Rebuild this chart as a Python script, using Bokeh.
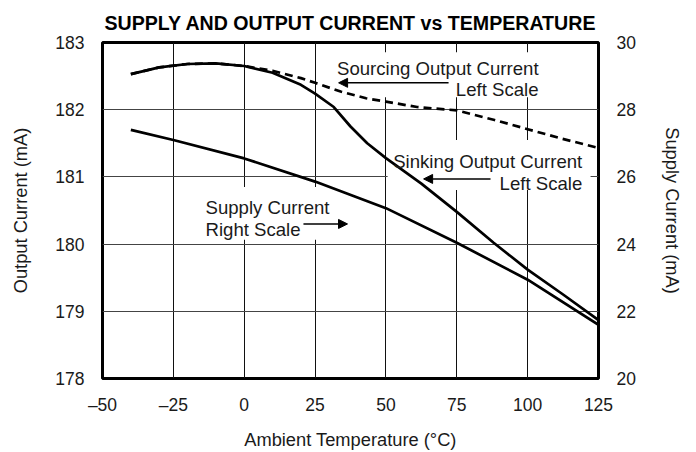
from bokeh.plotting import figure
from bokeh.models import (Range1d, LinearAxis, FixedTicker, Label, Arrow,
                          NormalHead, BoxAnnotation)
from bokeh.embed import file_html
from bokeh.resources import INLINE

# ---------------- data ----------------
temp_x_ticks = [-50, -25, 0, 25, 50, 75, 100, 125]
left_ticks = [178, 179, 180, 181, 182, 183]
right_ticks = [20, 22, 24, 26, 28, 30]

# Sourcing output current (left scale, mA) - dashed
src_temp = [-40, -30, -20, -10, 0, 10, 20, 25, 34, 43, 50, 61, 75, 88, 100, 112, 125]
src_curr = [182.53, 182.63, 182.68, 182.69, 182.65, 182.58, 182.47, 182.40,
            182.27, 182.17, 182.12, 182.04, 181.99, 181.85, 181.71, 181.57, 181.43]

# Sinking output current (left scale, mA) - solid
snk_temp = [-40, -30, -20, -10, 0, 10, 20, 25, 31.6, 37.5, 43.4, 50, 62.5, 75, 88, 100, 112.5, 125]
snk_curr = [182.53, 182.63, 182.68, 182.69, 182.65, 182.55, 182.37, 182.24, 182.04,
            181.75, 181.50, 181.28, 180.90, 180.48, 180.02, 179.62, 179.25, 178.87]

# Supply current (right scale, mA) - solid
sup_temp = [-40, -25, 0, 25, 50, 75, 100, 125]
sup_curr = [27.40, 27.10, 26.55, 25.86, 25.07, 24.04, 22.94, 21.60]

FONT = "Liberation Sans"
TXT = "#1a1a1a"

p = figure(width=694, height=452, output_backend="svg", toolbar_location=None,
           x_range=Range1d(-50, 125), y_range=Range1d(178, 183),
           min_border_left=102, min_border_right=96, min_border_top=42,
           min_border_bottom=74)
p.extra_y_ranges = {"supply": Range1d(20, 30)}

p.title.text = "SUPPLY AND OUTPUT CURRENT vs TEMPERATURE"
p.title.text_font = FONT
p.title.text_font_size = "19.6px"
p.title.text_font_style = "bold"
p.title.text_color = "black"
p.title.align = "center"
p.title.standoff = 18

p.outline_line_color = "black"
p.outline_line_width = 3
p.outline_line_alpha = 1.0

# x axis
xa = p.xaxis[0]
xa.ticker = FixedTicker(ticks=temp_x_ticks)
xa.major_label_overrides = {-50: "\u201350", -25: "\u201325"}
xa.axis_label = "Ambient Temperature (\u00b0C)"

ya = p.yaxis[0]
ya.ticker = FixedTicker(ticks=left_ticks)
ya.axis_label = "Output Current (mA)"

ra = LinearAxis(y_range_name="supply", ticker=FixedTicker(ticks=right_ticks),
                axis_label="Supply Current (mA)")
p.add_layout(ra, "right")

for ax in (xa, ya, ra):
    ax.axis_line_color = None
    ax.major_tick_line_color = None
    ax.minor_tick_line_color = None
    ax.major_tick_out = 0
    ax.major_tick_in = 0
    ax.major_label_text_font = FONT
    ax.major_label_text_font_size = "17.5px"
    ax.major_label_text_color = TXT
    ax.axis_label_text_font = FONT
    ax.axis_label_text_font_size = "18.3px"
    ax.axis_label_text_font_style = "normal"
    ax.axis_label_text_color = TXT

xa.major_label_standoff = 16
xa.axis_label_standoff = 11
ya.major_label_standoff = 18
ya.axis_label_standoff = 21
ra.major_label_standoff = 18
ra.axis_label_standoff = 23

p.xgrid.ticker = FixedTicker(ticks=temp_x_ticks)
p.xgrid.grid_line_color = "#111111"
p.xgrid.grid_line_width = 1
p.ygrid.ticker = FixedTicker(ticks=left_ticks)
p.ygrid.grid_line_color = "#444444"
p.ygrid.grid_line_width = 1

# white boxes behind the annotation texts (hide the grid there)
for (l, r, b, t) in [(31.5, 104.9, 182.187, 182.856),
                     (50.6, 122.2, 180.805, 181.548),
                     (-15.4, 30.45, 180.063, 180.85)]:
    p.add_layout(BoxAnnotation(left=l, right=r, bottom=b, top=t,
                               fill_color="white", fill_alpha=1.0,
                               line_color=None, level="underlay"))

# curves
p.line(src_temp, src_curr, line_color="black", line_width=2.7, line_dash="8 5")
p.line(snk_temp, snk_curr, line_color="black", line_width=2.7)
p.line(sup_temp, sup_curr, line_color="black", line_width=2.7, y_range_name="supply")

# annotation texts
def lab(x, y, text, align):
    p.add_layout(Label(x=x, y=y, text=text, text_align=align,
                       text_baseline="alphabetic", text_font=FONT,
                       text_font_size="18.6px", text_color=TXT))

lab(103.85, 182.61, "Sourcing Output Current", "right")
lab(103.85, 182.30, "Left Scale", "right")
lab(119.27, 181.226, "Sinking Output Current", "right")
lab(119.27, 180.905, "Left Scale", "right")
lab(-13.66, 180.548, "Supply Current", "left")
lab(-13.66, 180.211, "Right Scale", "left")

# arrows
for (xs, xe, y) in [(72.1, 33.3, 182.40), (86.9, 63.3, 180.97), (20.9, 36.45, 180.30)]:
    p.add_layout(Arrow(x_start=xs, y_start=y, x_end=xe, y_end=y,
                       line_color="black", line_width=1.5,
                       end=NormalHead(size=9, fill_color="black", line_color="black")))

open("out.html", "w").write(file_html(p, INLINE))
